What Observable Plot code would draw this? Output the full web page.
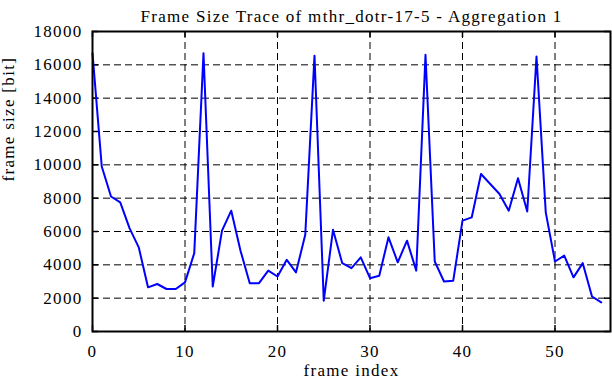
<!DOCTYPE html>
<html><head>
<meta charset="utf-8">
<script src="https://cdn.jsdelivr.net/npm/d3@7"></script>
<script src="https://cdn.jsdelivr.net/npm/@observablehq/plot@0.6"></script>
<style>body{margin:0;background:#fff} svg{display:block} svg text{font-family:"Liberation Serif","Times New Roman",serif !important;}</style>
</head><body><div id="chart"></div>
<script>
const titleText = "Frame Size Trace of mthr_dotr-17-5 - Aggregation 1";
const xLabel = "frame index";
const yLabel = "frame size [bit]";
const frameIndex = [0,1,2,3,4,5,6,7,8,9,10,11,12,13,14,15,16,17,18,19,20,21,22,23,24,25,26,27,28,29,30,31,32,33,34,35,36,37,38,39,40,41,42,43,44,45,46,47,48,49,50,51,52,53,54,55];
const frameSize = [16700,9900,8100,7750,6200,5050,2650,2850,2550,2550,2950,4700,16700,2700,6050,7250,4850,2900,2900,3650,3300,4300,3550,5800,16550,1850,6100,4100,3800,4450,3200,3350,5650,4150,5450,3650,16600,4200,3000,3050,6650,6850,9450,8850,8250,7250,9200,7200,16500,7150,4200,4550,3250,4100,2100,1750];
const xTicks = [0,10,20,30,40,50];
const yTicks = [0,2000,4000,6000,8000,10000,12000,14000,16000,18000];
const xGrid = [10,20,30,40,50];
const yGrid = [2000,4000,6000,8000,10000,12000,14000,16000];

const data = frameIndex.map((x,i)=>({x, y: frameSize[i]}));
const font = "Liberation Serif, Times New Roman, serif";
const fmt = d3.format("d");

const chart = Plot.plot({
  width: 612, height: 382,
  marginLeft: 92, marginRight: 2, marginTop: 31, marginBottom: 51,
  style: {fontFamily: font, fontSize: "17px", background: "#fff", color: "#000"},
  x: {domain: [0, 56]},
  y: {domain: [0, 18000]},
  marks: [
    Plot.gridX(xGrid, {stroke: "#000", strokeOpacity: 1, strokeWidth: 1, strokeDasharray: "7,4"}),
    Plot.gridY(yGrid, {stroke: "#000", strokeOpacity: 1, strokeWidth: 1, strokeDasharray: "7,4"}),
    Plot.tickX(xTicks, {x: d=>d, insetTop: 294, stroke: "#000", strokeWidth: 1.5}),
    Plot.tickX(xTicks, {x: d=>d, insetBottom: 294, stroke: "#000", strokeWidth: 1.5}),
    Plot.tickY(yTicks, {y: d=>d, insetRight: 512, stroke: "#000", strokeWidth: 1.5}),
    Plot.tickY(yTicks, {y: d=>d, insetLeft: 512, stroke: "#000", strokeWidth: 1.5}),
    Plot.axisX(xTicks, {tickSize: 0, tickPadding: 13, label: null, fontSize: 17, fontFamily: font, tickFormat: fmt}),
    Plot.axisY(yTicks, {tickSize: 0, tickPadding: 10, label: null, fontSize: 17, fontFamily: font, tickFormat: fmt}),
    Plot.line(data, {x: "x", y: "y", stroke: "#0000ff", strokeWidth: 2}),
    Plot.frame({stroke: "#000", strokeWidth: 2}),
    Plot.text([titleText], {frameAnchor: "top", dy: -21.5, fontSize: 17, fontFamily: font}),
    Plot.text([xLabel], {frameAnchor: "bottom", dy: 44, fontSize: 17, fontFamily: font}),
    Plot.text([yLabel], {frameAnchor: "left", dx: -84, rotate: -90, fontSize: 17, fontFamily: font})
  ]
});
document.getElementById("chart").appendChild(chart);
d3.select(chart).selectAll("text").style("letter-spacing", "1.3px");
</script>
</body></html>
